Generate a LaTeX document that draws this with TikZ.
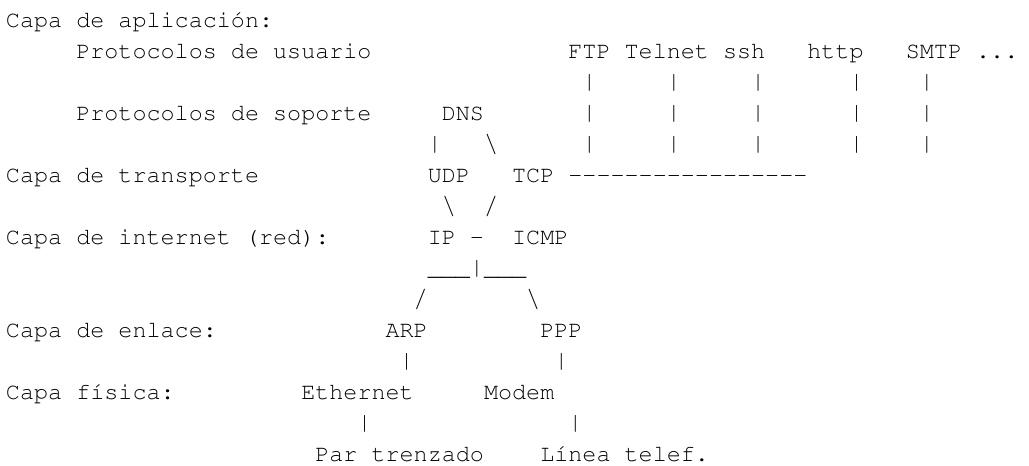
\documentclass[tikz,border=0pt]{standalone}
\usepackage[T1]{fontenc}
\usepackage{courier}
\usepackage{graphicx}
\newcommand\tok[4]{\node (#1) at (#2,-#3) {#4};}
% glyphs stretched to the proportions of the reference's Courier New
\newcommand\vbar{\raisebox{-0.22em}{\resizebox*{0.6em}{0.98em}{\raisebox{\depth}{\textbar}}}}
\newcommand\bslash{\raisebox{-0.12em}{\resizebox*{0.6em}{0.84em}{\raisebox{\depth}{\textbackslash}}}}
\newcommand\fslash{\raisebox{-0.12em}{\resizebox*{0.6em}{0.84em}{\raisebox{\depth}{/}}}}
\begin{document}
\begin{tikzpicture}[x=10.545pt,y=23.25pt,
  every node/.style={inner sep=0pt,outer sep=0pt,anchor=base west,
    font=\fontsize{17.575pt}{20pt}\selectfont\ttfamily}]
\fill[white] (-4.5pt,20.625pt) rectangle (767.25pt,-328.875pt);
\useasboundingbox (-4.5pt,20.625pt) rectangle (767.25pt,-328.875pt);
% row 0
\tok{capaapl}{0}{0}{Capa de aplicaci\'on:}
% row 1
\tok{usuario}{5}{1}{Protocolos de usuario}
\tok{ftp}{40}{1}{FTP}
\tok{telnet}{44}{1}{Telnet}
\tok{ssh}{51}{1}{ssh}
\tok{http}{57}{1}{http}
\tok{smtp}{64}{1}{SMTP}
\tok{dots}{69}{1}{...}
% rows 2-4: vertical bars under the user protocols
\foreach \r in {2,3,4}{
  \foreach \c/\n in {41/a,47/b,53/c,60/d,65/e}{
    \node (bar\n\r) at (\c,-\r) {\vbar};
  }
}
% row 3
\tok{soporte}{5}{3}{Protocolos de soporte}
\tok{dns}{31}{3}{DNS}
% row 4
\tok{dnsudp}{30}{4}{\vbar}
\tok{dnstcp}{34}{4}{\bslash}
% row 5
\tok{capatrans}{0}{5}{Capa de transporte}
\tok{udp}{30}{5}{UDP}
\tok{tcp}{36}{5}{TCP}
\tok{tcpline}{40}{5}{-{}-{}-{}-{}-{}-{}-{}-{}-{}-{}-{}-{}-{}-{}-{}-{}-{}}
% row 6
\tok{udpip}{31}{6}{\bslash}
\tok{tcpip}{34}{6}{\fslash}
% row 7
\tok{capared}{0}{7}{Capa de internet (red):}
\tok{ip}{30}{7}{IP}
\tok{ipdash}{33}{7}{-}
\tok{icmp}{36}{7}{ICMP}
% row 8
\tok{split}{30}{8}{\_\_\_\vbar\_\_\_}
% row 9
\tok{toarp}{29}{9}{\fslash}
\tok{toppp}{37}{9}{\bslash}
% row 10
\tok{capaenl}{0}{10}{Capa de enlace:}
\tok{arp}{27}{10}{ARP}
\tok{ppp}{38}{10}{PPP}
% row 11
\tok{arpeth}{28}{11}{\vbar}
\tok{pppmod}{39}{11}{\vbar}
% row 12
\tok{capafis}{0}{12}{Capa f\'{\i}sica:}
\tok{ethernet}{21}{12}{Ethernet}
\tok{modem}{34}{12}{Modem}
% row 13
\tok{ethpar}{25}{13}{\vbar}
\tok{modlin}{40}{13}{\vbar}
% row 14
\tok{par}{22}{14}{Par trenzado}
\tok{linea}{38}{14}{L\'{\i}nea telef.}
\end{tikzpicture}
\end{document}
